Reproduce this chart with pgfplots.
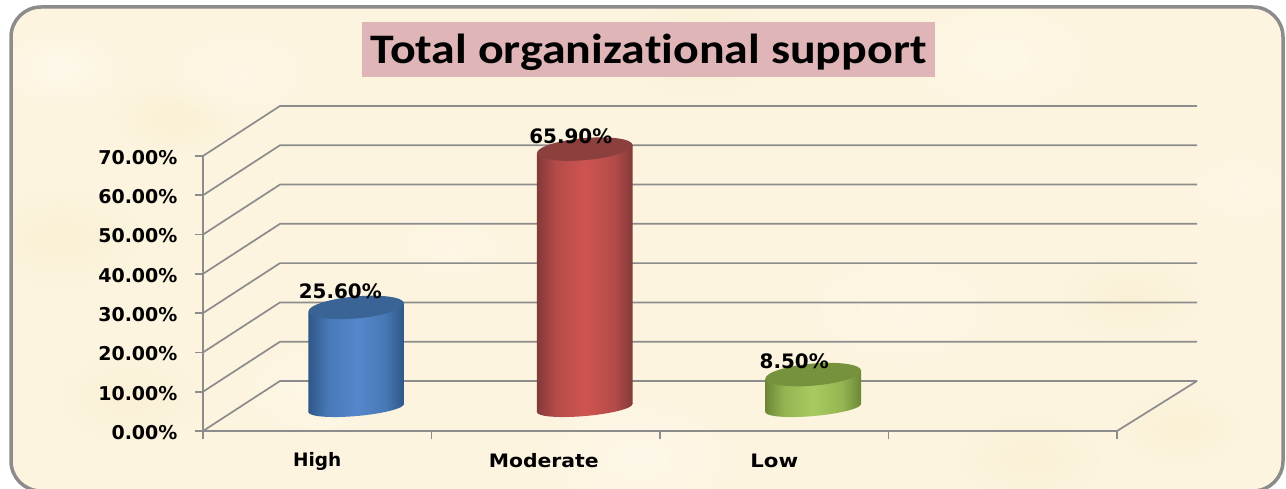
\documentclass[border=0pt]{standalone}
\usepackage{graphicx}
\usepackage{fontspec}
\setmainfont{DejaVu Sans}
\newfontfamily\titlefont[Ligatures=NoCommon]{Carlito}
\usepackage{pgfplots}
\usetikzlibrary{fadings}
\pgfplotsset{compat=1.18}
\definecolor{bg}{HTML}{FCF4DE}
\definecolor{lineg}{HTML}{8C8C8C}
\definecolor{titlebg}{HTML}{DFB5B8}
\definecolor{blueE}{HTML}{2F5788}\definecolor{blueM}{HTML}{5587CC}\definecolor{blueT}{HTML}{3A6396}\definecolor{blueH}{HTML}{4878B6}
\definecolor{redE}{HTML}{823A39}\definecolor{redM}{HTML}{CE5451}\definecolor{redT}{HTML}{8C403E}\definecolor{redH}{HTML}{B54B49}
\definecolor{greenE}{HTML}{6C8737}\definecolor{greenM}{HTML}{A8CB60}\definecolor{greenT}{HTML}{76923C}\definecolor{greenH}{HTML}{94B552}
\newcommand{\declarecyl}[1]{%
  \pgfdeclarehorizontalshading{#1side}{100bp}{color(0bp)=(#1E);color(25bp)=(#1E);color(35bp)=(#1H);color(50bp)=(#1M);color(65bp)=(#1H);color(75bp)=(#1E);color(100bp)=(#1E)}%
  \pgfdeclareplotmark{base#1}{\pgfpathellipse{\pgfpointorigin}{\pgfqpoint{47.8pt}{4.2pt}}{\pgfqpoint{-0.7pt}{8pt}}\pgfshadepath{#1side}{0}\pgfusepath{}}%
  \pgfdeclareplotmark{top#1}{\pgfsetfillcolor{#1T}\pgfpathellipse{\pgfpointorigin}{\pgfqpoint{47.8pt}{4.2pt}}{\pgfqpoint{-0.96pt}{10.96pt}}\pgfusepathqfill}%
}
\declarecyl{blue}\declarecyl{red}\declarecyl{green}
\tikzfading[name=softblob,inner color=transparent!0,outer color=transparent!100]
\newcommand{\blob}[4]{\definecolor{tmpc}{HTML}{#4}\fill[tmpc,path fading=softblob] (#1pt,#2pt) ellipse (#3pt and 0.6*#3pt);}
\pgfplotsset{cyl/.style={draw=none,shade,shading=#1side},
  val/.style={only marks,mark=top#1},
  bas/.style={only marks,mark=base#1}}
\begin{document}
\begin{tikzpicture}[x=1pt,y=1pt]
\path[use as bounding box] (0,0) rectangle (1286pt,488pt);
\begin{scope}
\clip (0,0) rectangle (1286pt,488pt);
\fill[bg,rounded corners=30pt] (11pt,-3pt) rectangle (1283pt,481pt);
\clip[rounded corners=30pt] (11pt,-3pt) rectangle (1283pt,481pt);
\blob{60}{420}{70}{FFF9EC}
\blob{175}{370}{60}{FAF0D3}
\blob{240}{415}{90}{FEF7E6}
\blob{320}{100}{90}{FEF8E8}
\blob{60}{250}{80}{FAF0D5}
\blob{1000}{430}{110}{FEF8E8}
\blob{1240}{300}{70}{FEF7E6}
\blob{1180}{60}{60}{FAF0D5}
\blob{640}{30}{110}{FEF8EA}
\blob{1030}{30}{70}{FAF0D6}
\blob{700}{440}{80}{FAF0D5}
\blob{130}{90}{70}{FAF0D6}
\blob{900}{180}{120}{FEF7E6}
\blob{1130}{190}{70}{FAF0D6}
\blob{450}{240}{70}{FEF7E6}
\end{scope}
\begin{scope}
\clip (0,0) rectangle (1286pt,488pt);
\draw[lineg,line width=3.5pt,rounded corners=30pt] (11pt,-3pt) rectangle (1283pt,481pt);
\end{scope}
% title
\fill[titlebg] (362pt,411pt) rectangle (935pt,466pt);
\node[font=\titlefont\bfseries\fontsize{42}{42}\selectfont,anchor=center] at (648.5pt,436pt) {\scalebox{1.14}[1]{Total organizational support}};
% back wall and side wall
\foreach \y in {0,10,...,70}{
  \draw[lineg,line width=1.7pt] (203pt,57pt+3.929pt*\y) -- (280pt,107pt+3.929pt*\y) -- (1197pt,107pt+3.929pt*\y);
}
\draw[lineg,line width=1.7pt] (1117pt,57pt) -- (1197pt,107pt);
\begin{axis}[
  at={(203pt,57pt)},anchor=south west,scale only axis,width=914pt,height=275pt,
  xmin=0,xmax=4,ymin=0,ymax=70,
  axis x line=bottom,axis y line=left,
  axis line style={lineg,line width=1.7pt,-},
  tick style={lineg,line width=1.7pt},
  tick align=outside,major tick length=8pt,
  xtick={0,1,2,3,4},xticklabels={},
  extra x ticks={0.5,1.5,2.5},
  extra x tick labels={High,\hspace*{-4pt}\scalebox{1.1}[1]{Moderate},\scalebox{1.15}[1]{Low}},
  extra x tick style={major tick length=0pt,tick style={draw=none}},
  ytick={0,10,...,70},
  yticklabel={\pgfmathprintnumber[fixed,fixed zerofill,precision=2,assume math mode=true]{\tick}\%},
  yticklabel style={font=\bfseries\fontsize{19}{19}\selectfont,anchor=east,xshift=-14pt,yshift=-1.5pt,text=black},
  xticklabel style={font=\bfseries\fontsize{18.5}{18.5}\selectfont,anchor=center,yshift=-30pt,text=black},
]
\end{axis}
\begin{axis}[
  at={(242pt,80pt)},anchor=south west,scale only axis,width=914pt,height=275pt,
  xmin=0,xmax=4,ymin=0,ymax=70,hide axis,clip=false,
  nodes near coords style={font=\bfseries\fontsize{19.9}{19.9}\selectfont,text=black,anchor=center},
]
\addplot[bas=blue] coordinates {(0.5,0)};
\addplot[cyl=blue] coordinates {(0.2908,-1.07) (0.7092,1.07) (0.7092,26.67) (0.2908,24.53)} \closedcycle;
\addplot[val=blue,nodes near coords={\pgfmathprintnumber[fixed,fixed zerofill,precision=2,assume math mode=true]{\pgfplotspointmeta}\%},nodes near coords style={xshift=-16pt,yshift=16pt}] coordinates {(0.5,25.6)};
\addplot[bas=red] coordinates {(1.5,0)};
\addplot[cyl=red] coordinates {(1.2908,-1.07) (1.7092,1.07) (1.7092,66.97) (1.2908,64.83)} \closedcycle;
\addplot[val=red,nodes near coords={\pgfmathprintnumber[fixed,fixed zerofill,precision=2,assume math mode=true]{\pgfplotspointmeta}\%},nodes near coords style={xshift=-14pt,yshift=13pt}] coordinates {(1.5,65.9)};
\addplot[bas=green] coordinates {(2.5,0)};
\addplot[cyl=green] coordinates {(2.2908,-1.07) (2.7092,1.07) (2.7092,9.57) (2.2908,7.43)} \closedcycle;
\addplot[val=green,nodes near coords={\pgfmathprintnumber[fixed,fixed zerofill,precision=2,assume math mode=true]{\pgfplotspointmeta}\%},nodes near coords style={xshift=-19pt,yshift=13pt}] coordinates {(2.5,8.5)};
\end{axis}
\end{tikzpicture}
\end{document}
